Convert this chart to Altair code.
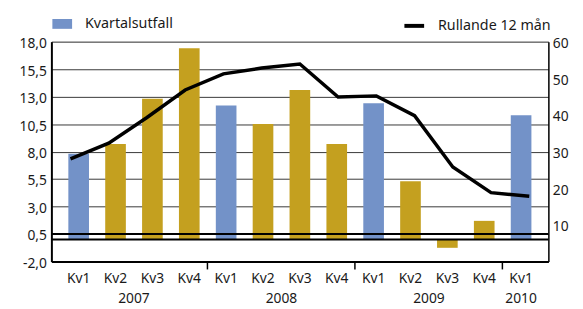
import altair as alt
import pandas as pd

# ---- data ----
years = ["2007"] * 4 + ["2008"] * 4 + ["2009"] * 4 + ["2010"]
quarters = ["Kv1", "Kv2", "Kv3", "Kv4"] * 3 + ["Kv1"]
kvartal = [7.8, 8.7, 12.8, 17.4, 12.2, 10.5, 13.6, 8.7, 12.4, 5.3, -0.75, 1.7, 11.3]
rullande = [28.0, 32.3, 39.3, 46.8, 51.2, 52.8, 53.9, 44.9, 45.2, 39.8, 25.8, 18.8, 17.8]
left_ticks = [-2.0, 0.5, 3.0, 5.5, 8.0, 10.5, 13.0, 15.5, 18.0]
right_ticks = [10, 20, 30, 40, 50, 60]
ref_lines = [0.0, 0.5]
year_labels = ["2007", "2008", "2009"]
year_anchor = ["2007 Kv2", "2008 Kv2", "2009 Kv2"]
last_year_label = ["2010"]
last_year_anchor = ["2010 Kv1"]
boundaries = ["2008 Kv1", "2009 Kv1", "2010 Kv1"]

BLUE = "#7392C8"
GOLD = "#C4A01F"
FONT = "Noto Sans"
W, H = 504, 223

keys = [f"{y} {q}" for y, q in zip(years, quarters)]
df = pd.DataFrame({
    "key": keys,
    "ar": years,
    "kv": quarters,
    "kvartal": kvartal,
    "rullande": rullande,
    "serie": ["Kvartalsutfall" if q == "Kv1" else "Övriga kvartal" for q in quarters],
    "linje": ["Rullande 12 mån"] * len(keys),
})

xband = alt.Scale(domain=keys, paddingInner=0.44, paddingOuter=0.46)
xaxis = alt.Axis(orient="bottom", labelExpr="split(datum.value, ' ')[1]", ticks=False,
                 domainColor="black", domainWidth=2, labelPadding=10, labelFontSize=14,
                 labelFont=FONT, labelColor="#1a1a1a", labelAngle=0, grid=False, title=None)
yleft = alt.Scale(domain=[-2, 18], nice=False, zero=False)
yaxis = alt.Axis(orient="left", values=left_ticks, grid=True, gridColor="#383838", gridWidth=1,
                 ticks=False, domainColor="black", domainWidth=2, labelPadding=5,
                 labelFontSize=14, labelFont=FONT, labelColor="#1a1a1a", labelOffset=2,
                 labelExpr="replace(replace(format(datum.value, '.1f'), '.', ','), '\u2212', '-')",
                 title=None)

bars = alt.Chart(df).mark_bar().encode(
    x=alt.X("key:N", scale=xband, axis=xaxis, sort=keys),
    y=alt.Y("kvartal:Q", scale=yleft, axis=yaxis),
    fill=alt.Fill("serie:N",
                  scale=alt.Scale(domain=["Kvartalsutfall", "Övriga kvartal"], range=[BLUE, GOLD]),
                  legend=alt.Legend(values=["Kvartalsutfall"], orient="none", legendX=1, legendY=-28,
                                    title=None, symbolType="M-1,-0.5L1,-0.5L1,0.5L-1,0.5Z",
                                    symbolSize=400, symbolStrokeWidth=0, labelFontSize=14.5,
                                    labelFont=FONT, labelColor="#1a1a1a", labelOffset=13,
                                    padding=0, symbolOffset=0)),
)

rules = alt.Chart(pd.DataFrame({"v": ref_lines})).mark_rule(color="black", strokeWidth=2).encode(
    y=alt.Y("v:Q", scale=yleft, axis=yaxis),
)

ticks = alt.Chart(pd.DataFrame({"key": boundaries})).mark_rule(
    color="black", strokeWidth=1.5, xOffset=-8.5
).encode(
    x=alt.X("key:N", scale=xband, axis=xaxis, bandPosition=0),
    y=alt.value(H),
    y2=alt.value(H + 8),
)

yr1 = alt.Chart(pd.DataFrame({"key": year_anchor, "ar": year_labels})).mark_text(
    font=FONT, fontSize=14, color="#1a1a1a", baseline="middle", dx=18.7
).encode(
    x=alt.X("key:N", scale=xband, axis=xaxis),
    y=alt.value(H + 38),
    text="ar:N",
)
yr2 = alt.Chart(pd.DataFrame({"key": last_year_anchor, "ar": last_year_label})).mark_text(
    font=FONT, fontSize=14, color="#1a1a1a", baseline="middle"
).encode(
    x=alt.X("key:N", scale=xband, axis=xaxis),
    y=alt.value(H + 38),
    text="ar:N",
)

inner = alt.layer(bars, rules, ticks, yr1, yr2)

line = alt.Chart(df).mark_line(strokeWidth=3.5, strokeJoin="miter", strokeCap="butt").encode(
    x=alt.X("key:N", scale=alt.Scale(type="point", padding=0.5, domain=keys), axis=None, sort=keys),
    y=alt.Y("rullande:Q", scale=alt.Scale(domain=[0, 60], nice=False),
            axis=alt.Axis(orient="right", values=right_ticks, grid=False, ticks=False,
                          domainColor="black", domainWidth=1.5, labelPadding=4,
                          labelFontSize=14, labelFont=FONT, labelColor="#1a1a1a",
                          labelOffset=2, title=None)),
    stroke=alt.Stroke("linje:N", scale=alt.Scale(range=["black"]),
                      legend=alt.Legend(orient="none", legendX=356, legendY=-28, title=None,
                                        symbolType="stroke", symbolSize=400, symbolStrokeWidth=4,
                                        labelFontSize=14.5, labelFont=FONT, labelColor="#1a1a1a",
                                        labelOffset=12, padding=0, symbolOffset=0)),
)

chart = alt.layer(inner, line).resolve_scale(
    x="independent", y="independent"
).properties(
    width=W, height=H,
    padding={"left": 44, "top": 32, "right": 27, "bottom": 46},
    autosize=alt.AutoSizeParams(type="none"),
).configure_view(stroke="black", strokeWidth=1.5).configure(font=FONT)

chart.save("out.html", embed_options={"renderer": "svg", "actions": False})
